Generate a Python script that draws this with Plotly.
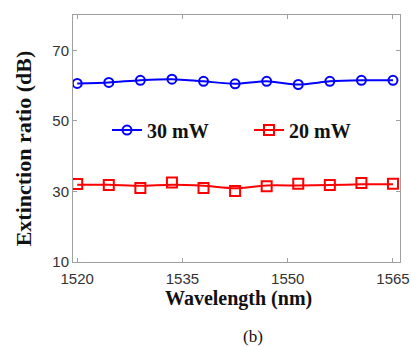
import plotly.graph_objects as go

wavelength = [1520, 1524.5, 1529, 1533.5, 1538, 1542.5, 1547, 1551.5, 1556, 1560.5, 1565]
er_30mw = [60.6, 60.9, 61.5, 61.8, 61.2, 60.5, 61.2, 60.3, 61.2, 61.5, 61.5]
er_20mw = [32.1, 31.8, 31.0, 32.5, 31.0, 30.1, 31.5, 32.2, 31.8, 32.4, 32.2]
er_20mw_fit = [31.9, 31.9, 31.6, 31.9, 31.6, 30.9, 31.7, 31.7, 31.8, 32.0, 32.0]
x_ticks = [1520, 1535, 1550, 1565]
y_ticks = [10, 30, 50, 70]

BLUE = "#0000ff"
RED = "#ff0000"

fig = go.Figure()
fig.add_trace(go.Scatter(
    x=wavelength, y=er_30mw, mode="lines+markers", name="<b>30 mW</b>",
    line=dict(color=BLUE, width=2, shape="spline", smoothing=0.6),
    marker=dict(symbol="circle-open", size=9, color=BLUE, line=dict(width=2, color=BLUE)),
))
fig.add_trace(go.Scatter(
    x=wavelength, y=er_20mw_fit, mode="lines", showlegend=False,
    line=dict(color=RED, width=2, shape="spline", smoothing=0.6),
))
fig.add_trace(go.Scatter(
    x=wavelength, y=er_20mw, mode="markers", showlegend=False,
    marker=dict(symbol="square-open", size=10, color=RED, line=dict(width=2, color=RED)),
))
fig.add_trace(go.Scatter(
    x=[None], y=[None], mode="lines+markers", name="<b>20 mW</b>",
    line=dict(color=RED, width=2),
    marker=dict(symbol="square-open", size=10, color=RED, line=dict(width=2, color=RED)),
))

axis_common = dict(
    showgrid=False, zeroline=False, showline=True, linecolor="#a0a0a0", linewidth=1,
    mirror="ticks", ticks="inside", ticklen=4, tickcolor="#a0a0a0", automargin=False,
    tickfont=dict(family="Liberation Sans", size=15, color="#333333"),
)

fig.update_layout(
    width=411, height=346,
    margin=dict(l=73, r=11, t=15, b=84),
    paper_bgcolor="white", plot_bgcolor="white",
    xaxis=dict(range=[1519.4, 1566], tickvals=x_ticks, ticklabelstandoff=3, **axis_common),
    yaxis=dict(range=[10, 80], tickvals=y_ticks, **axis_common),
    legend=dict(
        orientation="h", x=0.104, y=0.534, xanchor="left", yanchor="middle",
        bgcolor="rgba(0,0,0,0)", borderwidth=0,
        font=dict(family="Liberation Serif", size=20, color="#111111"),
        entrywidth=97, entrywidthmode="pixels",
    ),
    annotations=[
        dict(text="<b>Wavelength (nm)</b>", x=0.505, y=-0.146, xref="paper", yref="paper",
             showarrow=False, xanchor="center", yanchor="middle",
             font=dict(family="Liberation Serif", size=20, color="#111111")),
        dict(text="<b>Extinction ratio (dB)</b>", x=-0.153, y=0.46, xref="paper", yref="paper",
             showarrow=False, xanchor="center", yanchor="middle", textangle=-90,
             font=dict(family="Liberation Serif", size=22, color="#111111")),
        dict(text="(b)", x=0.55, y=-0.30, xref="paper", yref="paper",
             showarrow=False, xanchor="center", yanchor="middle",
             font=dict(family="Liberation Serif", size=17, color="#111111")),
    ],
)

fig.write_html("out.html")
